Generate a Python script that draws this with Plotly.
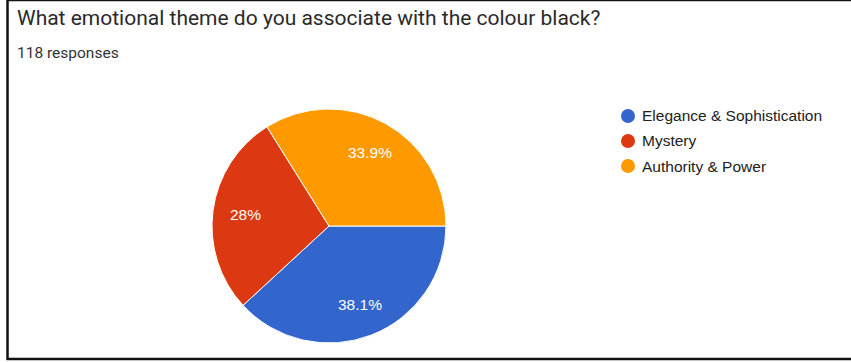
import math
import plotly.graph_objects as go

W, H = 851, 362

# Survey data
labels = ["Elegance & Sophistication", "Mystery", "Authority & Power"]
counts = [45, 33, 40]
colors = ["#3366CC", "#DC3912", "#FF9900"]
title_text = "What emotional theme do you associate with the colour black?"
total = sum(counts)
subtitle_text = f"{total} responses"

pct_text = [f"{round(c / total * 100, 1):g}%" for c in counts]

# Pie geometry in pixels
cx, cy, r = 329, 226, 117
label_r = 0.72 * r

fig = go.Figure()
fig.add_trace(go.Pie(
    labels=labels,
    values=counts,
    textinfo="none",
    marker=dict(colors=colors, line=dict(color="white", width=1)),
    sort=False,
    direction="clockwise",
    rotation=90,
    showlegend=False,
    hoverinfo="label+value+percent",
    domain=dict(x=[(cx - r) / W, (cx + r) / W],
                y=[(H - cy - r) / H, (H - cy + r) / H]),
))

shapes = [
    # frame around the card
    dict(type="rect", xref="paper", yref="paper",
         x0=7.5 / W, x1=1.02, y0=(H - 359) / H, y1=1.0,
         line=dict(color="#111111", width=2.5), fillcolor="rgba(0,0,0,0)"),
]
annotations = [
    dict(text=title_text, xref="paper", yref="paper",
         x=15 / W, y=(H - 18) / H, xanchor="left", yanchor="middle",
         showarrow=False, font=dict(family="Roboto", size=21, color="#2a2a2a")),
    dict(text=subtitle_text, xref="paper", yref="paper",
         x=15 / W, y=(H - 53) / H, xanchor="left", yanchor="middle",
         showarrow=False, font=dict(family="Roboto", size=15.5, color="#333333")),
]

# Percentage labels placed at each slice's mid-angle (clockwise from 3 o'clock)
start = 0.0
for c, t in zip(counts, pct_text):
    frac = c / total
    mid = start + frac / 2
    ang = -2 * math.pi * mid
    px = cx + label_r * math.cos(ang)
    py = cy - label_r * math.sin(ang)
    annotations.append(dict(text=t, xref="paper", yref="paper",
                            x=px / W, y=(H - py) / H,
                            xanchor="center", yanchor="middle", showarrow=False,
                            font=dict(family="Liberation Sans, Arial", size=15.5, color="white")))
    start += frac

# Legend with circular swatches
lx, ly0, step, rad = 628, 116, 25, 7
for i, (lab, col) in enumerate(zip(labels, colors)):
    y = ly0 + i * step
    shapes.append(dict(type="circle", xref="paper", yref="paper",
                       x0=(lx - rad) / W, x1=(lx + rad) / W,
                       y0=(H - y - rad) / H, y1=(H - y + rad) / H,
                       fillcolor=col, line=dict(width=0)))
    annotations.append(dict(text=lab, xref="paper", yref="paper",
                            x=(lx + 12) / W, y=(H - y) / H,
                            xanchor="left", yanchor="middle", showarrow=False,
                            font=dict(family="Liberation Sans, Arial", size=15.5, color="#222222")))

fig.update_layout(
    width=W, height=H,
    margin=dict(l=0, r=0, t=0, b=0),
    paper_bgcolor="white", plot_bgcolor="white",
    shapes=shapes, annotations=annotations,
)

fig.write_html("out.html")
